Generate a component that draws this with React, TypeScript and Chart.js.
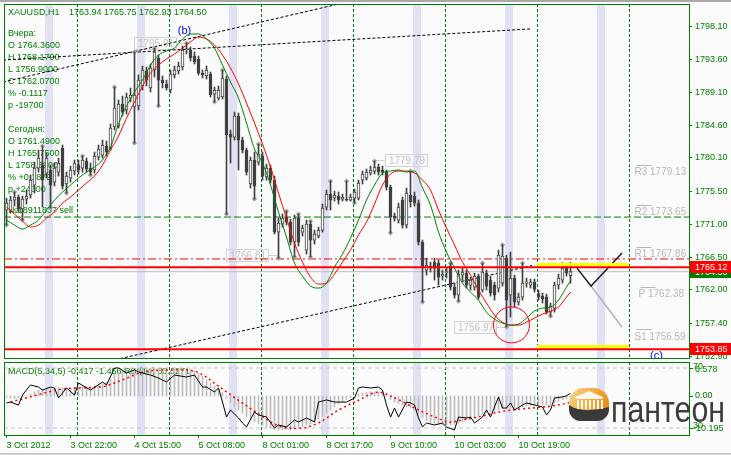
import React, { useEffect, useRef } from 'react';
import { Chart, registerables } from 'chart.js';
Chart.register(...registerables);

const FONT = "'Liberation Sans', Arial, sans-serif";
const GREEN = '#008000';
const RED = '#ff0000';
const BG = '#fbfbfb';
const BAND = '#e1e1f6';
const CANDLE = '#404040';

const X_MIN = -0.625;
const X_MAX = 170.625;
const PRICE_MIN = 1752.66;
const PRICE_MAX = 1801.21;
const MACD_MIN = -9.15;
const MACD_MAX = 7.99;
const RSI_MIN = 25.33;
const RSI_MAX = 74;

// ---- candles (XAUUSD H1), bar index 0 = 3 Oct 06:00 ----
const barOpen = [
  1772.95, 1772.95, 1774.32, 1774.73, 1773.09, 1774.46, 1775.01, 1776.38, 1778.71, 1779.12,
  1778.02, 1778.44, 1776.79, 1778.16, 1781.45, 1776.52, 1777.34, 1778.30, 1779.12, 1778.71,
  1779.67, 1778.71, 1778.44, 1780.22, 1780.49, 1781.73, 1781.45, 1784.34, 1784.47, 1787.49,
  1786.67, 1788.31, 1787.08, 1787.22, 1789.96, 1792.02, 1789.69, 1792.16, 1793.80, 1790.78,
  1790.24, 1789.41, 1791.47, 1792.02, 1792.57, 1794.90, 1794.90, 1794.08, 1793.67, 1791.74,
  1791.33, 1791.61, 1788.86, 1788.31, 1788.45, 1790.92, 1783.38, 1782.96, 1785.84, 1782.55,
  1781.18, 1776.52, 1779.81, 1779.53, 1780.36, 1777.48, 1778.71, 1777.06, 1769.93, 1771.03,
  1771.99, 1771.30, 1768.56, 1771.85, 1769.93, 1767.46, 1771.03, 1768.83, 1769.38, 1770.20,
  1773.36, 1775.14, 1774.59, 1774.87, 1774.46, 1774.46, 1774.32, 1774.59, 1774.59, 1777.06,
  1777.34, 1778.02, 1778.30, 1778.85, 1778.44, 1778.16, 1776.10, 1772.12, 1771.58, 1774.32,
  1770.89, 1775.01, 1774.87, 1773.91, 1768.56, 1764.72, 1765.26, 1765.81, 1765.68, 1763.89,
  1764.36, 1765.26, 1762.38, 1761.29, 1764.03, 1764.30, 1762.66, 1762.38, 1763.89, 1761.97,
  1764.30, 1763.34, 1762.66, 1762.25, 1762.93, 1766.36, 1761.29, 1763.62, 1760.33, 1761.01,
  1762.93, 1762.66, 1763.07, 1761.49, 1761.15, 1761.01, 1758.95, 1759.50, 1762.66, 1763.34,
  1764.99, 1763.94,
];
const barHigh = [
  1774.59, 1774.87, 1775.42, 1775.01, 1774.87, 1775.69, 1777.75, 1779.53, 1781.18, 1781.73,
  1780.77, 1779.12, 1779.40, 1780.08, 1781.87, 1778.16, 1778.98, 1779.81, 1779.81, 1780.36,
  1780.08, 1779.40, 1780.91, 1781.87, 1782.55, 1782.41, 1784.75, 1789.82, 1788.04, 1788.59,
  1789.00, 1789.69, 1794.63, 1791.47, 1792.70, 1792.57, 1792.98, 1795.17, 1794.21, 1791.33,
  1790.78, 1792.16, 1792.70, 1793.25, 1795.45, 1795.86, 1795.31, 1794.63, 1794.08, 1792.16,
  1792.70, 1791.88, 1789.82, 1789.96, 1792.16, 1791.33, 1783.92, 1786.39, 1786.26, 1782.96,
  1781.45, 1780.22, 1780.91, 1782.00, 1780.91, 1779.26, 1779.12, 1777.61, 1771.85, 1772.40,
  1772.81, 1771.71, 1772.26, 1772.40, 1770.89, 1771.58, 1771.44, 1770.20, 1770.62, 1773.77,
  1775.69, 1776.93, 1775.55, 1775.42, 1775.14, 1776.93, 1775.14, 1775.83, 1777.06, 1778.30,
  1778.57, 1778.98, 1779.67, 1779.26, 1778.98, 1778.44, 1776.38, 1772.54, 1773.91, 1774.73,
  1775.97, 1778.30, 1775.42, 1774.32, 1768.83, 1766.36, 1765.81, 1766.36, 1766.09, 1764.72,
  1764.99, 1765.68, 1762.93, 1764.72, 1764.99, 1764.72, 1763.76, 1764.30, 1764.17, 1765.68,
  1764.72, 1763.89, 1763.07, 1767.46, 1768.18, 1766.77, 1767.19, 1764.03, 1761.56, 1765.68,
  1763.62, 1763.48, 1763.48, 1761.97, 1761.56, 1761.42, 1760.19, 1763.07, 1764.17, 1765.54,
  1765.26, 1765.75,
];
const barLow = [
  1770.89, 1772.54, 1773.50, 1772.67, 1771.58, 1773.77, 1774.59, 1775.28, 1778.16, 1773.36,
  1777.34, 1773.22, 1776.24, 1777.61, 1775.83, 1775.28, 1776.79, 1777.75, 1777.89, 1778.16,
  1778.16, 1777.75, 1778.02, 1779.81, 1780.08, 1780.36, 1781.18, 1783.92, 1784.20, 1785.84,
  1786.12, 1787.77, 1782.14, 1786.67, 1789.41, 1789.96, 1789.14, 1791.20, 1787.22, 1789.69,
  1789.41, 1789.00, 1791.06, 1791.61, 1792.16, 1794.35, 1793.39, 1792.98, 1791.47, 1791.06,
  1790.92, 1788.45, 1787.77, 1788.04, 1788.18, 1772.40, 1779.40, 1782.55, 1778.44, 1780.77,
  1777.75, 1775.97, 1774.46, 1779.12, 1777.06, 1777.06, 1776.65, 1769.66, 1766.36, 1770.62,
  1770.89, 1768.15, 1766.50, 1768.01, 1769.38, 1766.91, 1766.50, 1768.28, 1769.11, 1769.93,
  1772.95, 1772.95, 1774.18, 1773.77, 1774.18, 1774.18, 1774.18, 1773.91, 1774.32, 1776.52,
  1777.06, 1777.75, 1777.89, 1777.75, 1777.75, 1775.69, 1769.79, 1771.44, 1771.16, 1770.48,
  1770.48, 1773.36, 1773.50, 1768.15, 1760.33, 1764.03, 1764.44, 1763.34, 1762.66, 1763.34,
  1763.62, 1761.97, 1760.87, 1760.46, 1763.34, 1762.25, 1761.97, 1761.97, 1760.74, 1761.70,
  1761.97, 1761.15, 1760.60, 1761.70, 1762.52, 1756.90, 1758.27, 1759.64, 1759.91, 1760.60,
  1762.38, 1762.25, 1761.70, 1760.60, 1760.19, 1758.68, 1758.39, 1758.95, 1762.11, 1762.93,
  1763.89, 1762.93,
];
const barClose = [
  1773.91, 1774.32, 1774.73, 1773.09, 1774.46, 1774.87, 1777.06, 1778.71, 1780.08, 1777.06,
  1780.08, 1776.38, 1778.71, 1779.40, 1776.24, 1777.61, 1778.44, 1779.40, 1778.44, 1779.81,
  1778.57, 1778.16, 1780.36, 1781.32, 1781.87, 1780.91, 1784.20, 1786.94, 1787.49, 1786.39,
  1788.45, 1788.73, 1788.73, 1790.78, 1792.16, 1790.78, 1792.43, 1794.63, 1790.78, 1790.37,
  1789.69, 1791.61, 1792.16, 1792.70, 1794.90, 1795.04, 1793.80, 1793.25, 1791.74, 1791.47,
  1792.16, 1788.73, 1789.41, 1789.41, 1791.06, 1783.24, 1782.96, 1785.84, 1782.55, 1781.18,
  1778.16, 1779.81, 1776.24, 1780.63, 1777.61, 1778.71, 1777.06, 1769.93, 1771.16, 1771.85,
  1771.30, 1768.56, 1771.85, 1768.56, 1770.48, 1771.03, 1768.83, 1769.66, 1770.20, 1773.22,
  1775.14, 1774.32, 1775.01, 1774.32, 1774.73, 1774.32, 1774.73, 1775.42, 1776.65, 1777.89,
  1778.16, 1778.44, 1778.85, 1778.16, 1778.16, 1776.10, 1771.99, 1771.85, 1773.36, 1770.89,
  1775.28, 1774.05, 1773.91, 1768.56, 1764.99, 1765.40, 1764.99, 1764.99, 1763.76, 1764.17,
  1764.44, 1762.38, 1761.29, 1764.17, 1764.44, 1762.66, 1763.34, 1763.89, 1761.01, 1764.44,
  1762.52, 1761.56, 1761.29, 1766.77, 1766.64, 1760.60, 1763.62, 1760.33, 1761.01, 1762.93,
  1763.07, 1763.07, 1762.07, 1761.01, 1760.74, 1758.95, 1759.78, 1762.66, 1763.62, 1764.99,
  1764.30, 1764.50,
];

// ---- moving averages (read at these bars) ----
const maBars = [
  0, 2, 4, 6, 8, 10, 12, 14, 16, 18, 20, 22, 24, 26, 28, 30, 32, 34, 36, 38, 40, 42, 44, 46, 48,
  50, 52, 54, 56, 58, 60, 62, 64, 66, 68, 70, 72, 74, 76, 78, 80, 82, 84, 86, 88, 90, 92, 94, 96, 98,
  100, 102, 104, 106, 108, 110, 112, 114, 116, 118, 120, 122, 124, 126, 128, 130, 132, 134, 136, 138, 140, 141,
];
const maFast = [
  1771.58, 1770.89, 1770.34, 1770.89, 1771.58, 1772.95, 1774.32, 1775.42, 1776.38, 1777.34, 1778.16, 1778.85,
  1779.81, 1781.59, 1784.75, 1787.22, 1789.14, 1790.78, 1792.84, 1794.21, 1794.76, 1795.17, 1796.41, 1797.10,
  1797.10, 1796.41, 1795.17, 1792.84, 1790.51, 1788.31, 1784.89, 1781.32, 1779.40, 1776.38, 1772.67, 1769.24,
  1765.68, 1763.89, 1762.52, 1762.25, 1762.93, 1765.13, 1766.91, 1769.11, 1771.58, 1774.32, 1776.38, 1778.02,
  1778.30, 1778.44, 1778.16, 1778.30, 1775.97, 1773.63, 1769.93, 1767.19, 1764.99, 1762.93, 1761.70, 1760.60,
  1758.95, 1757.99, 1757.45, 1757.17, 1757.31, 1758.13, 1759.09, 1759.50, 1759.64, 1760.60, 1762.38, 1763.21,
];
const maSlow = [
  1773.36, 1772.40, 1771.44, 1770.62, 1770.89, 1771.85, 1772.67, 1773.91, 1774.73, 1775.69, 1776.65, 1777.61,
  1779.12, 1781.18, 1783.10, 1785.57, 1787.77, 1789.96, 1791.74, 1792.84, 1793.67, 1794.35, 1795.17, 1796.00,
  1796.68, 1796.41, 1795.59, 1794.21, 1792.43, 1790.24, 1787.63, 1784.89, 1782.00, 1778.85, 1775.28, 1771.85,
  1768.42, 1765.81, 1763.76, 1762.80, 1762.93, 1764.17, 1765.81, 1767.46, 1769.52, 1771.30, 1773.77, 1776.38,
  1777.89, 1778.30, 1778.30, 1778.02, 1777.06, 1775.69, 1772.95, 1770.48, 1768.15, 1765.81, 1764.03, 1761.97,
  1760.19, 1758.54, 1757.58, 1757.17, 1757.17, 1757.58, 1758.13, 1758.68, 1759.09, 1759.64, 1761.01, 1761.70,
];

// ---- fractals ----
const fractalUpBars = [2, 9, 19, 27, 32, 37, 45, 54, 63, 70, 73, 76, 81, 85, 92, 101, 111, 119, 124, 129, 139];
const fractalDownBars = [0, 4, 11, 15, 21, 32, 38, 52, 55, 62, 68, 72, 76, 87, 96, 104, 113, 125, 136];

// ---- levels and objects ----
const levelGreenDash = 1771.99;
const levelRedDash = 1766.24;
const levelBid = 1764.5;
const levelRedHigh = 1765.12;
const levelRedLow = 1753.85;
const yellowHigh = 1765.47;
const yellowLow = 1754.25;
const todayStartBar = 133;
const nextDayBar = 156;
const trendA = [[-0.875, 1790.51], [84.125, 1801.35]];
const trendB = [[-0.875, 1793.53], [130.875, 1797.79]];
const trendC = [[-0.875, 1748.95], [131.375, 1765.34]];
const zigzagBlack = [[142.625, 1764.99], [146.125, 1762.53], [153.875, 1767.06]];
const zigzagGray = [[146.125, 1762.53], [153.875, 1756.91]];
const circleMark = { x: 126.25, y: 1757.2, r: 18 };

const pivotNames = ['R3', 'R2', 'R1', 'P', 'S1'];
const pivotValues = [1779.13, 1773.65, 1767.86, 1762.38, 1756.59];
const boxedLabels = [
  { bar: 45, price: 1795.91, side: -1 },
  { bar: 92, price: 1779.79, side: 1 },
  { bar: 68, price: 1766.81, side: -1 },
  { bar: 125, price: 1756.97, side: -1 },
];
const waveLabels = [
  { text: '(b)', bar: 44.5, price: 1797.51 },
  { text: '(c)', bar: 162.5, price: 1752.93 },
];

const priceTicks = [1798.1, 1793.6, 1789.1, 1784.6, 1780.1, 1775.5, 1771.0, 1766.5, 1762.0, 1757.4, 1752.9];
const dayStartBars = [18, 41, 64, 87, 110, 133, 156];
const highlightBars = [10, 33, 56, 79, 102, 125, 148];
const timeTickBars = [0, 16, 32, 48, 64, 80, 96, 112, 128];
const timeTickLabels = ['3 Oct 2012', '3 Oct 22:00', '4 Oct 15:00', '5 Oct 08:00', '8 Oct 01:00', '8 Oct 17:00', '9 Oct 10:00', '10 Oct 03:00', '10 Oct 19:00'];

const headerSymbol = 'XAUUSD,H1';
const headerPrices = '1763.94 1765.75 1762.93 1764.50';
const infoLines = [
  'Вчера:', 'O 1764.3600', 'H 1768.1790', 'L 1756.9000', 'C 1762.0700', '% -0.1117', 'p -19700', '',
  'Сегодня:', 'O 1761.4900', 'H 1765.7500', 'L 1758.3900', '% +0.1879', 'p +24300',
];
const orderLine = '№18911837 sell';
const logoText = 'пантеон';

// ---- sub window ----
const macdMain = [
  -0.3, -0.5, -0.6, -0.4, -0.2, 0.1,
  0.5, 1.0, 1.4, 1.6, 1.7, 1.8, 1.9, 2.0, 1.9, 1.8, 1.9, 2.0, 2.1, 2.2, 2.2,
  2.2, 2.4, 2.6, 2.9, 3.3, 4.0, 5.0, 5.6, 6.0, 6.2, 6.3, 6.4, 6.5, 6.6, 6.5,
  6.5, 6.6, 6.5, 6.4, 6.3, 6.3, 6.4, 6.4, 6.5, 6.5, 6.3, 5.9, 5.3, 4.6, 3.8,
  3.0, 2.3, 1.6, 0.8, -0.5, -1.6, -2.4, -3.2, -4.0, -4.8, -5.4, -6.0, -6.4, -6.9, -7.3,
  -7.6, -7.9, -8.0, -8.0, -7.9, -7.8, -7.8, -7.6, -7.2, -6.9, -6.5, -6.0, -5.4, -4.8, -4.0,
  -3.3, -2.6, -1.9, -1.3, -0.8, -0.4, 0.0, 0.4, 0.7, 0.9, 1.0, 1.0, 0.9, 0.6, 0.1,
  -0.8, -1.4, -1.8, -2.2, -2.5, -2.8, -3.3, -4.2, -5.2, -5.8, -6.2, -6.4, -6.6, -6.7, -6.8,
  -6.8, -6.7, -6.4, -6.0, -5.6, -5.2, -4.9, -4.6, -4.2, -3.9, -3.7, -3.6, -3.3, -3.0, -3.1,
  -2.9, -2.9, -2.8, -2.6, -2.4, -2.2, -2.1, -2.0, -2.0, -2.1,
  -2.0, -1.6, -1.2, -0.8, -0.6, -0.417,
];
const signalBars = [1, 6, 13, 18, 24, 29, 34, 39, 44, 48, 53, 58, 63, 68, 73, 78, 83, 88, 93, 97, 102, 107, 111, 114, 118, 123, 128, 134, 139, 141];
const signalValues = [-1.4, -0.2, 1.5, 1.9, 2.2, 3.8, 5.6, 6.1, 6.1, 5.5, 2.3, -1.0, -4.2, -7.0, -7.6, -6.3, -3.3, -1.0, 0.9, -0.4, -2.8, -4.9, -6.1, -5.6, -4.9, -3.8, -3.1, -2.6, -1.9, -1.456];
const rsiBars = [
  0, 1, 3, 4, 6, 8, 9, 11, 12, 13, 15, 17, 18, 21, 24, 25, 27, 28, 30, 32,
  33, 36, 38, 40, 42, 45, 47, 49, 50, 52, 53, 54, 55, 56, 58, 59, 60, 62, 63, 65,
  67, 68, 70, 72, 73, 75, 77, 78, 80, 82, 83, 85, 87, 88, 89, 91, 93, 94, 95, 96,
  97, 98, 100, 101, 102, 103, 104, 105, 107, 109, 110, 112, 113, 115, 116, 117, 119, 120, 121, 123,
  124, 125, 126, 127, 129, 130, 132, 134, 135, 136, 137, 139, 140, 141,
];
const rsiValues = [
  46.7, 47.3, 45.3, 52, 58.7, 57.3, 55.3, 57.3, 56.7, 50, 56.7, 52, 60, 55.3, 60.7, 58.7, 70, 70, 66.7, 68.7,
  67.3, 65.3, 63.3, 60.7, 65.3, 64, 65.3, 57.3, 57.3, 54, 56.7, 47.3, 37.3, 42, 36.7, 33.3, 30.7, 40.7, 38.7, 37.3,
  30, 32, 30.7, 35.3, 34, 36.7, 34, 47.3, 48.7, 47.3, 47.3, 47.3, 50, 56.7, 57.3, 56.7, 57.3, 55.3, 45.3, 37.3,
  43.3, 37.3, 47.3, 46.7, 45.3, 36.7, 30.7, 33.3, 32, 33.3, 30.7, 28.7, 37.3, 36.7, 37.3, 33.3, 37.3, 42, 37.3, 50.7,
  43.3, 43.3, 46.7, 42, 45.3, 46.7, 45.3, 44, 38.7, 42, 50, 50.7, 51.5, 53.03,
];
const rsiLevels = [70, 30];
const subHeader = 'MACD(5,34,5) -0.417 -1.456 RSI(14) 53.0271';
const subScaleLabels = { macdMax: '6.578', macdMin: '-10.195', zero: '0.00' };

// ---------------------------------------------------------------
function seg(pts: number[][], color: string, width: number, dash: number[], order: number, axis = 'y') {
  return {
    type: 'line', data: pts.map(([x, y]) => ({ x, y })), borderColor: color, borderWidth: width,
    borderDash: dash, pointRadius: 0, fill: false, order, yAxisID: axis, tension: 0,
  } as any;
}

function drawBands(chart: any) {
  const { ctx, chartArea: ca, scales } = chart;
  const xs = scales.x;
  ctx.save();
  ctx.beginPath();
  ctx.rect(ca.left, ca.top, ca.right - ca.left, ca.bottom - ca.top);
  ctx.clip();
  ctx.fillStyle = BAND;
  for (const b of highlightBars) {
    const x0 = xs.getPixelForValue(b - 0.375);
    const x1 = xs.getPixelForValue(b + 1.625);
    ctx.fillRect(x0, ca.top, x1 - x0, ca.bottom - ca.top);
  }
  ctx.strokeStyle = GREEN;
  ctx.lineWidth = 1;
  ctx.setLineDash([3, 2]);
  for (const d of dayStartBars) {
    const x = Math.round(xs.getPixelForValue(d - 0.375)) + 0.5;
    ctx.beginPath();
    ctx.moveTo(x, ca.top);
    ctx.lineTo(x, ca.bottom);
    ctx.stroke();
  }
  ctx.restore();
}

function drawFrame(chart: any) {
  const { ctx, chartArea: ca } = chart;
  ctx.save();
  ctx.strokeStyle = GREEN;
  ctx.lineWidth = 1;
  ctx.strokeRect(ca.left + 0.5, ca.top + 0.5, ca.right - ca.left, ca.bottom - ca.top);
  ctx.restore();
}

function drawLogo(ctx: CanvasRenderingContext2D, x: number, y: number) {
  const w = 40, h = 33;
  ctx.save();
  ctx.beginPath();
  (ctx as any).roundRect(x, y, w, h, [15, 15, 12, 12]);
  ctx.clip();
  const g = ctx.createLinearGradient(x, y, x + w, y + h * 0.6);
  g.addColorStop(0, '#f8d890');
  g.addColorStop(0.5, '#f3ae45');
  g.addColorStop(1, '#e98a12');
  ctx.fillStyle = g;
  ctx.fillRect(x, y, w, h);
  // dark swoosh
  ctx.fillStyle = '#3a3a3a';
  ctx.beginPath();
  ctx.moveTo(x, y + 17);
  ctx.bezierCurveTo(x + 12, y + 25, x + 26, y + 22, x + w, y + 19);
  ctx.lineTo(x + w, y + h);
  ctx.lineTo(x, y + h);
  ctx.closePath();
  ctx.fill();
  // building
  ctx.fillStyle = '#fff7ea';
  ctx.beginPath();
  ctx.moveTo(x + 6, y + 9);
  ctx.lineTo(x + 20, y + 3);
  ctx.lineTo(x + 34, y + 9);
  ctx.closePath();
  ctx.fill();
  ctx.fillRect(x + 6, y + 9, 28, 2);
  for (let c = 0; c < 7; c++) ctx.fillRect(x + 8 + c * 4, y + 12, 2, 9);
  ctx.restore();
  // word mark
  ctx.save();
  ctx.font = `36px ${FONT}`;
  ctx.fillStyle = '#3c3c3c';
  ctx.textBaseline = 'alphabetic';
  ctx.textAlign = 'left';
  const tw = ctx.measureText(logoText).width;
  ctx.translate(x + 42, y + 34);
  ctx.scale(114 / tw, 1);
  ctx.fillText(logoText, 0, 0);
  ctx.restore();
}

const mainDecor = {
  id: 'mainDecor',
  beforeDraw(chart: any) {
    const { ctx, width, height } = chart;
    ctx.save();
    ctx.fillStyle = BG;
    ctx.fillRect(0, 0, width, height);
    ctx.fillStyle = '#a8a8a8';
    ctx.fillRect(0, 0, width, 2);
    ctx.restore();
  },
  beforeDatasetsDraw(chart: any) {
    drawBands(chart);
    const { ctx, chartArea: ca, scales } = chart;
    const xs = scales.x, ys = scales.y;
    ctx.save();
    ctx.beginPath();
    ctx.rect(ca.left, ca.top, ca.right - ca.left, ca.bottom - ca.top);
    ctx.clip();
    // pivot labels
    ctx.font = `10px ${FONT}`;
    ctx.textBaseline = 'middle';
    ctx.textAlign = 'left';
    pivotNames.forEach((n, k) => {
      const y = ys.getPixelForValue(pivotValues[k]);
      const x = xs.getPixelForValue(157) + (n === 'P' ? 4 : 0);
      ctx.strokeStyle = '#b4b4b4';
      ctx.lineWidth = 1;
      ctx.beginPath();
      ctx.moveTo(x + 2, Math.round(y) + 0.5);
      ctx.lineTo(x + 17, Math.round(y) + 0.5);
      ctx.stroke();
      ctx.fillStyle = '#b8b8b8';
      ctx.fillText(`${n} ${pivotValues[k].toFixed(2)}`, x, y + 7.5);
    });
    // boxed price labels
    boxedLabels.forEach(({ bar, price, side }) => {
      const mx = xs.getPixelForValue(bar);
      const y = Math.round(ys.getPixelForValue(price));
      const w = 42, h = 12;
      const bx = Math.round(side < 0 ? mx - 11 - w : mx + 10);
      ctx.strokeStyle = '#d2d2d2';
      ctx.lineWidth = 1;
      ctx.strokeRect(bx + 0.5, y - 6 + 0.5, w, h);
      ctx.beginPath();
      ctx.moveTo(side < 0 ? bx + w + 1 : bx, y + 0.5);
      ctx.lineTo(mx, y + 0.5);
      ctx.stroke();
      ctx.fillStyle = '#c4c4c4';
      ctx.textAlign = 'center';
      ctx.fillText(price.toFixed(2), bx + w / 2 + 1, y + 1);
    });
    // wave labels
    ctx.font = `11px ${FONT}`;
    ctx.fillStyle = '#0000ff';
    ctx.textAlign = 'center';
    waveLabels.forEach(({ text, bar, price }) => {
      ctx.fillText(text, xs.getPixelForValue(bar), ys.getPixelForValue(price));
    });
    ctx.restore();
    // info texts
    ctx.save();
    ctx.font = `9px ${FONT}`;
    ctx.fillStyle = GREEN;
    ctx.textAlign = 'left';
    ctx.textBaseline = 'middle';
    ctx.fillText(headerSymbol, ca.left + 4, 12.5);
    ctx.fillText(headerPrices, ca.left + 65, 12.5);
    infoLines.forEach((s, k) => ctx.fillText(s, ca.left + 4, 34 + 12 * k));
    ctx.fillText(orderLine, ca.left + 4, 211);
    ctx.restore();
  },
  afterDatasetsDraw(chart: any) {
    drawFrame(chart);
  },
  afterDraw(chart: any) {
    const { ctx, chartArea: ca, scales, width } = chart;
    const ys = scales.y;
    const boxes = [
      { v: levelBid, c: GREEN },
      { v: levelRedHigh, c: RED },
      { v: levelRedLow, c: RED },
    ];
    ctx.save();
    ctx.font = `9px ${FONT}`;
    ctx.textBaseline = 'middle';
    ctx.textAlign = 'left';
    boxes.forEach(({ v, c }) => {
      const y = Math.round(ys.getPixelForValue(v));
      ctx.fillStyle = c;
      ctx.fillRect(ca.right + 1, y - 6, width - ca.right - 1, 12);
      ctx.fillStyle = '#ffffff';
      ctx.fillText(v.toFixed(2), ca.right + 6, y + 0.5);
    });
    ctx.restore();
  },
};

const subDecor = {
  id: 'subDecor',
  beforeDraw(chart: any) {
    const { ctx, width, height } = chart;
    ctx.save();
    ctx.fillStyle = BG;
    ctx.fillRect(0, 0, width, height);
    ctx.fillStyle = '#d0d0d0';
    ctx.fillRect(0, height - 2, width, 2);
    ctx.restore();
  },
  beforeDatasetsDraw(chart: any) {
    drawBands(chart);
    const { ctx, chartArea: ca } = chart;
    ctx.save();
    ctx.font = `9px ${FONT}`;
    ctx.fillStyle = GREEN;
    ctx.textBaseline = 'middle';
    ctx.fillText(subHeader, ca.left + 4, ca.top + 9.5);
    ctx.restore();
  },
  afterDatasetsDraw(chart: any) {
    drawFrame(chart);
  },
  afterDraw(chart: any) {
    const { ctx, chartArea: ca, scales } = chart;
    const r70 = Math.round(scales.rsi.getPixelForValue(70));
    const r30 = Math.round(scales.rsi.getPixelForValue(30));
    const z = Math.round(scales.macd.getPixelForValue(0));
    ctx.save();
    ctx.font = `9px ${FONT}`;
    ctx.fillStyle = GREEN;
    ctx.strokeStyle = GREEN;
    ctx.textBaseline = 'middle';
    ctx.textAlign = 'left';
    [r70, z, r30].forEach((y) => {
      ctx.beginPath();
      ctx.moveTo(ca.right + 1, y + 0.5);
      ctx.lineTo(ca.right + 4, y + 0.5);
      ctx.stroke();
    });
    const x = ca.right + 4;
    ctx.fillText('70', x, r70 - 1);
    ctx.fillText(subScaleLabels.macdMax, x + 2, r70 + 2);
    ctx.fillText(subScaleLabels.zero, x + 2, z);
    ctx.fillText('30', x, r30 - 2);
    ctx.fillText(subScaleLabels.macdMin, x, r30 + 0.5);
    ctx.restore();
    drawLogo(ctx, ca.right - 120, ca.top + 26);
  },
};

function buildMain(canvas: HTMLCanvasElement) {
  const wickData = barLow.map((l, i) => ({ x: i, y: [l, barHigh[i]] }));
  const bodyData = barOpen.map((o, i) => ({ x: i, y: [o, barClose[i]] }));
  const bodyFill = barOpen.map((o, i) => (barClose[i] >= o ? '#ffffff' : CANDLE));
  const fractalPts = [
    ...fractalUpBars.map((b) => ({ x: b, y: barHigh[b] })),
    ...fractalDownBars.map((b) => ({ x: b, y: barLow[b] })),
  ];
  const xEnd = X_MAX;
  const datasets: any[] = [
    { type: 'bubble', data: [circleMark], backgroundColor: 'rgba(0,0,0,0)', borderColor: RED, borderWidth: 1, order: 0 },
    seg([[X_MIN, levelRedHigh], [xEnd, levelRedHigh]], RED, 2, [], 1),
    seg([[X_MIN, levelRedLow], [xEnd, levelRedLow]], RED, 2, [], 1),
    seg([[todayStartBar - 0.375, yellowHigh], [nextDayBar - 0.375, yellowHigh]], '#ffff00', 3, [], 2),
    seg([[todayStartBar - 0.375, yellowLow], [nextDayBar - 0.375, yellowLow]], '#ffff00', 3, [], 2),
    {
      type: 'line', data: maBars.map((b, k) => ({ x: b, y: maFast[k] })), borderColor: GREEN, borderWidth: 1,
      pointRadius: 0, fill: false, cubicInterpolationMode: 'monotone', order: 3,
    },
    {
      type: 'line', data: maBars.map((b, k) => ({ x: b, y: maSlow[k] })), borderColor: RED, borderWidth: 1,
      pointRadius: 0, fill: false, cubicInterpolationMode: 'monotone', order: 3,
    },
    seg(zigzagBlack, '#202020', 1.5, [], 3),
    seg(zigzagGray, '#b4b4b4', 1.5, [], 3),
    {
      type: 'bar', data: bodyData, backgroundColor: bodyFill, borderColor: CANDLE, borderWidth: 1,
      borderSkipped: false, barThickness: 3, minBarLength: 1, grouped: false, order: 4,
    },
    {
      type: 'bar', data: wickData, backgroundColor: CANDLE, borderWidth: 0, barThickness: 1,
      grouped: false, order: 5,
    },
    {
      type: 'scatter', data: fractalPts, pointStyle: 'rectRot', pointRadius: 2.6, backgroundColor: '#a4a4a4',
      borderWidth: 0, order: 6,
    },
    seg([[X_MIN, levelBid], [xEnd, levelBid]], '#c0c0c0', 1, [], 7),
    seg([[X_MIN, levelGreenDash], [xEnd, levelGreenDash]], GREEN, 1, [7, 3], 7),
    seg([[X_MIN, levelRedDash], [xEnd, levelRedDash]], RED, 1, [8, 3, 2, 3], 7),
    seg(trendA, '#000000', 1, [3, 2], 7),
    seg(trendB, '#000000', 1, [3, 2], 7),
    seg(trendC, '#000000', 1, [3, 2], 7),
  ];
  return new Chart(canvas, {
    type: 'bar',
    data: { datasets },
    options: {
      responsive: false,
      animation: false,
      devicePixelRatio: 1,
      events: [],
      layout: { autoPadding: false, padding: { left: 4, top: 4, right: 0, bottom: 2 } },
      plugins: { legend: { display: false }, tooltip: { enabled: false }, title: { display: false } },
      scales: {
        x: { type: 'linear', axis: 'x', display: false, min: X_MIN, max: X_MAX, offset: false },
        y: {
          type: 'linear', axis: 'y', position: 'right', min: PRICE_MIN, max: PRICE_MAX,
          afterFit: (s: any) => { s.width = 42; s.paddingTop = 0; s.paddingBottom = 0; },
          afterBuildTicks: (s: any) => { s.ticks = priceTicks.map((v) => ({ value: v })); },
          ticks: {
            autoSkip: false, color: GREEN, font: { family: FONT, size: 9 }, padding: 3,
            callback: (v: any) => Number(v).toFixed(2),
          },
          grid: { drawOnChartArea: false, drawTicks: true, tickLength: 3, color: GREEN },
          border: { display: false },
        },
      },
    } as any,
    plugins: [mainDecor],
  } as any);
}

function buildSub(canvas: HTMLCanvasElement) {
  const datasets: any[] = [
    {
      type: 'line', data: rsiBars.map((b, k) => ({ x: b, y: rsiValues[k] })), borderColor: '#000000',
      borderWidth: 1, pointRadius: 0, fill: false, yAxisID: 'rsi', order: 2, tension: 0,
    },
    {
      type: 'line', data: signalBars.map((b, k) => ({ x: b, y: signalValues[k] })), borderColor: RED,
      borderWidth: 1.5, borderDash: [2, 3], pointRadius: 0, fill: false, yAxisID: 'macd', order: 3,
      cubicInterpolationMode: 'monotone',
    },
    {
      type: 'bar', data: macdMain.map((v, i) => ({ x: i, y: v })), backgroundColor: '#bdbdbd',
      borderWidth: 0, barThickness: 1, grouped: false, yAxisID: 'macd', order: 5,
    },
    ...rsiLevels.map((lv) => seg([[X_MIN, lv], [X_MAX, lv]], '#c4c4c4', 1, [4, 3], 6, 'rsi')),
  ];
  return new Chart(canvas, {
    type: 'bar',
    data: { datasets },
    options: {
      responsive: false,
      animation: false,
      devicePixelRatio: 1,
      events: [],
      layout: { autoPadding: false, padding: { left: 4, top: 2, right: 42, bottom: 0 } },
      plugins: { legend: { display: false }, tooltip: { enabled: false }, title: { display: false } },
      scales: {
        x: {
          type: 'linear', axis: 'x', position: 'bottom', min: X_MIN, max: X_MAX, offset: false,
          afterFit: (s: any) => { s.height = 20; s.paddingLeft = 0; s.paddingRight = 0; },
          afterBuildTicks: (s: any) => { s.ticks = timeTickBars.map((v) => ({ value: v })); },
          ticks: {
            autoSkip: false, maxRotation: 0, minRotation: 0, align: 'start', color: GREEN,
            font: { family: FONT, size: 9 }, padding: 2,
            callback: (_v: any, idx: number) => timeTickLabels[idx] ?? '',
          },
          grid: { drawOnChartArea: false, drawTicks: true, tickLength: 3, color: GREEN, offset: false },
          border: { display: false },
        },
        macd: { type: 'linear', axis: 'y', position: 'right', display: false, min: MACD_MIN, max: MACD_MAX },
        rsi: { type: 'linear', axis: 'y', position: 'right', display: false, min: RSI_MIN, max: RSI_MAX },
      },
    } as any,
    plugins: [subDecor],
  } as any);
}

export default function App() {
  const mainRef = useRef<HTMLCanvasElement>(null);
  const subRef = useRef<HTMLCanvasElement>(null);
  useEffect(() => {
    const a = buildMain(mainRef.current!);
    const b = buildSub(subRef.current!);
    return () => {
      a.destroy();
      b.destroy();
    };
  }, []);
  return (
    <div style={{ position: 'fixed', left: 0, top: 0, width: 731, height: 455, background: BG, overflow: 'hidden' }}>
      <canvas ref={mainRef} width={731} height={360} style={{ position: 'absolute', left: 0, top: 0, width: 731, height: 360 }} />
      <canvas ref={subRef} width={731} height={95} style={{ position: 'absolute', left: 0, top: 360, width: 731, height: 95 }} />
    </div>
  );
}
